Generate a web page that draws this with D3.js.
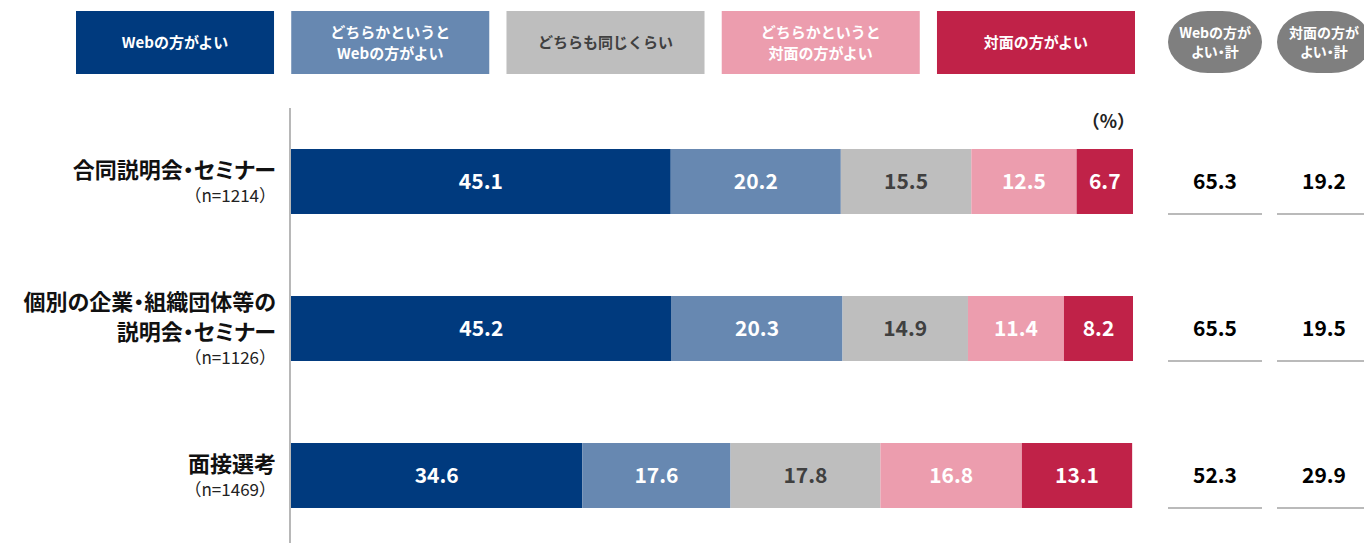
<!DOCTYPE html>
<html>
<head>
<meta charset="utf-8">
<script src="https://cdn.jsdelivr.net/npm/d3@7"></script>
<style>
  body { margin: 0; background: #fff; }
  svg { display: block; font-family: "Noto Sans CJK JP", "Noto Sans", sans-serif; }
  .palt { font-feature-settings: "palt"; }
</style>
</head>
<body>
<svg id="chart" width="1364" height="543"></svg>
<script>
// categories (multi-line labels) and sample sizes
var categories = [
    ["合同説明会・セミナー"],
    ["個別の企業・組織団体等の", "説明会・セミナー"],
    ["面接選考"]
]
var sampleSizes = [1214, 1126, 1469]

// legend labels
var seriesNames = [
    ["Webの方がよい"],
    ["どちらかというと", "Webの方がよい"],
    ["どちらも同じくらい"],
    ["どちらかというと", "対面の方がよい"],
    ["対面の方がよい"]
]

// series values (%)
var webBetter = [45.1, 45.2, 34.6]
var webSomewhat = [20.2, 20.3, 17.6]
var same = [15.5, 14.9, 17.8]
var faceSomewhat = [12.5, 11.4, 16.8]
var faceBetter = [6.7, 8.2, 13.1]

// totals
var totalHeaders = [["Webの方が", "よい・計"], ["対面の方が", "よい・計"]]
var webTotal = [65.3, 65.5, 52.3]
var faceTotal = [19.2, 19.5, 29.9]

var colors = ["#003a7e", "#6788b1", "#bebebe", "#ec9dae", "#c02248"]
var textColors = ["#fff", "#fff", "#404040", "#fff", "#fff"]

var svg = d3.select("#chart")

var series = [webBetter, webSomewhat, same, faceSomewhat, faceBetter]
var rows = categories.map(function (c, i) {
    var x0 = 0
    return series.map(function (s, k) {
        var seg = { row: i, k: k, v: s[i], x0: x0, x1: x0 + s[i] }
        x0 += s[i]
        return seg
    })
})

const X_scale = d3.scaleLinear().domain([0, 100]).range([291, 1133])
const Y_scale = d3.scaleBand()
    .domain(d3.range(categories.length))
    .range([108, 549])
    .paddingInner(0.558)
    .paddingOuter(0.279)

// legend
var legendX = d3.scaleBand().domain(d3.range(5)).range([76, 1135]).paddingInner(0.08).paddingOuter(0)
var legend = svg.append("g").selectAll("g")
    .data(seriesNames)
    .join("g")
    .attr("transform", (d, i) => `translate(${legendX(i)},11)`)
legend.append("rect")
    .attr("width", legendX.bandwidth())
    .attr("height", 63)
    .attr("fill", (d, i) => colors[i])
legend.each(function (lines, i) {
    var t = d3.select(this).append("text")
        .attr("text-anchor", "middle")
        .attr("font-size", 15)
        .attr("font-weight", "bold")
        .attr("fill", textColors[i])
    lines.forEach(function (l, j) {
        t.append("tspan")
            .attr("x", legendX.bandwidth() / 2)
            .attr("y", 32 + (j - (lines.length - 1) / 2) * 20.5)
            .attr("dy", "0.35em")
            .text(l)
    })
})

// total headers (pills)
var totalX = [1215, 1324]
var pills = svg.append("g").selectAll("g")
    .data(totalHeaders)
    .join("g")
    .attr("transform", (d, i) => `translate(${totalX[i] - 47},11)`)
pills.append("rect")
    .attr("width", 94)
    .attr("height", 62)
    .attr("rx", 40)
    .attr("ry", 31)
    .attr("fill", "#7f7f7f")
pills.each(function (lines) {
    var t = d3.select(this).append("text")
        .attr("class", "palt")
        .attr("text-anchor", "middle")
        .attr("font-size", 14)
        .attr("font-weight", "bold")
        .attr("fill", "#fff")
    lines.forEach(function (l, j) {
        t.append("tspan")
            .attr("x", 47)
            .attr("y", 32 + (j - 0.5) * 19)
            .attr("dy", "0.35em")
            .text(l)
    })
})

// axis line
svg.append("line")
    .attr("x1", 290).attr("x2", 290)
    .attr("y1", 108).attr("y2", 543)
    .attr("stroke", "#888")
    .attr("stroke-width", 1.2)

// (%)
svg.append("text")
    .attr("x", X_scale(100) + 2)
    .attr("y", 122)
    .attr("dy", "0.35em")
    .attr("text-anchor", "end")
    .attr("font-size", 18)
    .attr("font-weight", "bold")
    .attr("fill", "#222")
    .text("（%）")

// bars
var barGroup = svg.append("g")
var segs = barGroup.selectAll("g")
    .data(rows.flat())
    .join("g")
segs.append("rect")
    .attr("x", d => X_scale(d.x0))
    .attr("y", d => Y_scale(d.row))
    .attr("width", d => X_scale(d.x1) - X_scale(d.x0))
    .attr("height", Y_scale.bandwidth())
    .attr("fill", d => colors[d.k])
segs.append("text")
    .attr("x", d => (X_scale(d.x0) + X_scale(d.x1)) / 2)
    .attr("y", d => Y_scale(d.row) + Y_scale.bandwidth() / 2)
    .attr("dy", "0.35em")
    .attr("text-anchor", "middle")
    .attr("font-size", 21)
    .attr("font-weight", "bold")
    .attr("fill", d => textColors[d.k])
    .text(d => d.v.toFixed(1))

// category labels
var labels = svg.append("g").selectAll("text")
    .data(categories)
    .join("text")
    .attr("text-anchor", "end")
    .attr("fill", "#111")
labels.each(function (lines, i) {
    var t = d3.select(this)
    var cy = Y_scale(i) + Y_scale.bandwidth() / 2
    var n = lines.length
    var top = cy - 11 - (n - 1) * 15
    lines.forEach(function (l, j) {
        t.append("tspan")
            .attr("class", "palt")
            .attr("x", 276)
            .attr("y", top + j * 30)
            .attr("dy", "0.35em")
            .attr("font-size", 22)
            .attr("font-weight", "bold")
            .text(l)
    })
    t.append("tspan")
        .attr("x", 276)
        .attr("y", top + (n - 1) * 30 + 26)
        .attr("dy", "0.35em")
        .attr("font-size", 17)
        .attr("font-weight", "normal")
        .attr("fill", "#222")
        .text(`（n=${sampleSizes[i]}）`)
})

// totals columns
var totals = [webTotal, faceTotal]
var lineSpan = [[1168, 1262], [1277, 1364]]
totals.forEach(function (vals, c) {
    var g = svg.append("g")
    g.selectAll("text")
        .data(vals)
        .join("text")
        .attr("x", totalX[c])
        .attr("y", (d, i) => Y_scale(i) + Y_scale.bandwidth() / 2)
        .attr("dy", "0.35em")
        .attr("text-anchor", "middle")
        .attr("font-size", 21)
        .attr("font-weight", "bold")
        .attr("fill", "#000")
        .text(d => d.toFixed(1))
    g.selectAll("line")
        .data(vals)
        .join("line")
        .attr("x1", lineSpan[c][0])
        .attr("x2", lineSpan[c][1])
        .attr("y1", (d, i) => Y_scale(i) + Y_scale.bandwidth())
        .attr("y2", (d, i) => Y_scale(i) + Y_scale.bandwidth())
        .attr("stroke", "#777")
        .attr("stroke-width", 1.2)
})
</script>
</body>
</html>
